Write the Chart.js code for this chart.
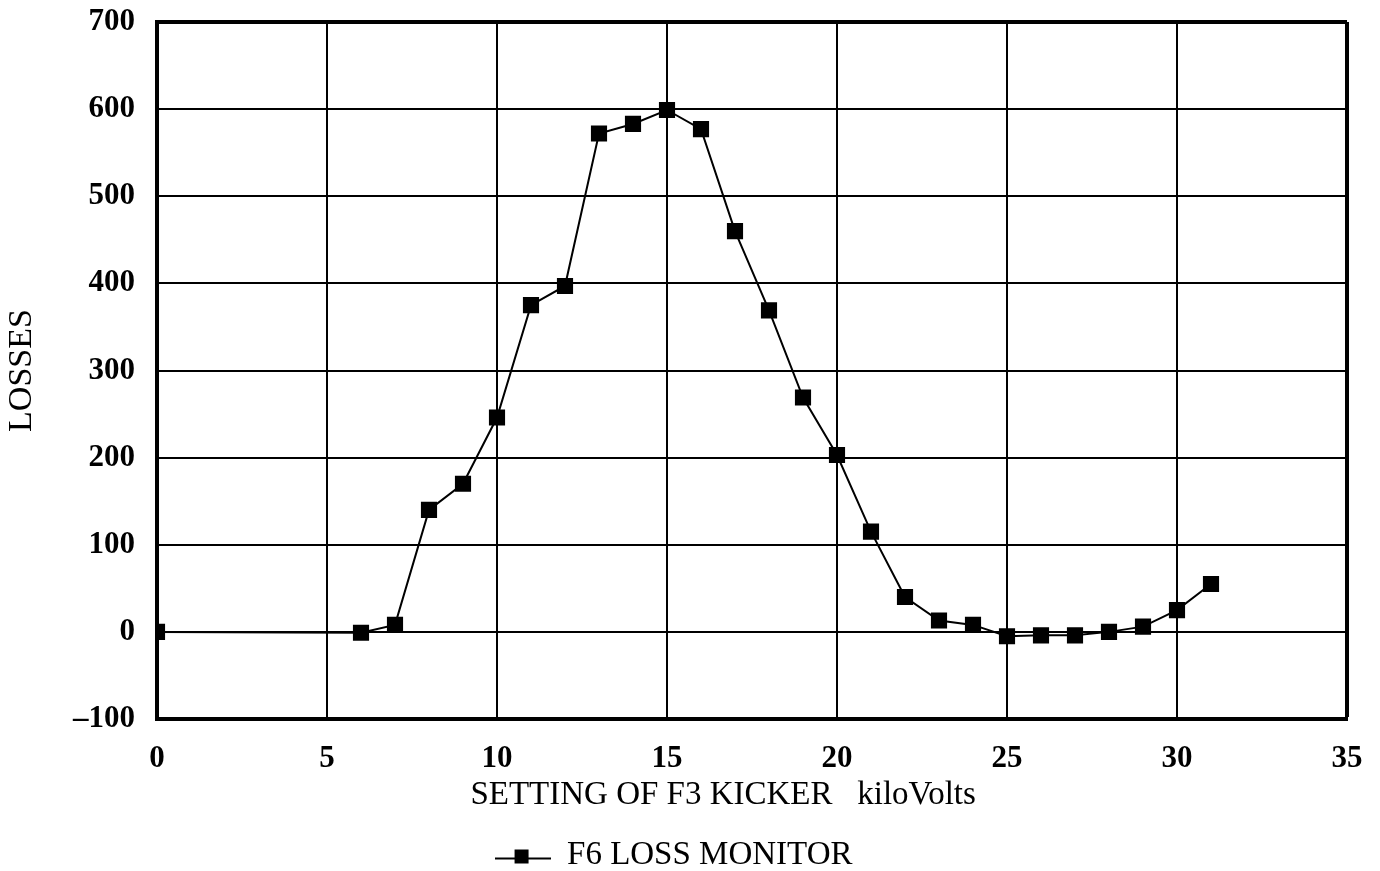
<!DOCTYPE html>
<html>
<head>
<meta charset="utf-8">
<script src="https://cdn.jsdelivr.net/npm/chart.js@4.4.0/dist/chart.umd.min.js"></script>
<style>
  html, body { margin: 0; padding: 0; background: #fff; }
  #wrap { width: 1380px; height: 871px; }
</style>
</head>
<body>
<div id="wrap"><canvas id="c" width="1380" height="871"></canvas></div>
<script>
// Kicker settings (kV) and the loss monitor readings at each setting
const kickerKV = [0, 6, 7, 8, 9, 10, 11, 12, 13, 14, 15, 16, 17, 18, 19, 20, 21, 22, 23, 24, 25, 26, 27, 28, 29, 30, 31];
const f6Losses = [0, -1, 8, 140, 170, 246, 375, 397, 572, 583, 599, 577, 460, 369, 269, 203, 115, 40, 13, 8, -5, -4, -4, 0, 6, 25, 55];
const seriesName = 'F6 LOSS MONITOR';
const xTitle = 'SETTING OF F3 KICKER   kiloVolts       ';
const yTitle = 'LOSSES';

// Legend symbol: short line with a filled square in the middle
function legendSymbol() {
  const cv = document.createElement('canvas');
  cv.width = 56; cv.height = 18;
  const g = cv.getContext('2d');
  g.strokeStyle = '#000'; g.lineWidth = 2;
  g.beginPath(); g.moveTo(0, 12); g.lineTo(56, 12); g.stroke();
  g.fillStyle = '#000';
  g.fillRect(20, 3, 14, 14);
  return cv;
}

const serif = "'Liberation Serif', 'Times New Roman', serif";

new Chart(document.getElementById('c'), {
  type: 'line',
  data: {
    datasets: [{
      label: seriesName,
      data: kickerKV.map((x, i) => ({ x: x, y: f6Losses[i] })),
      borderColor: '#000',
      backgroundColor: '#000',
      borderWidth: 2,
      pointStyle: 'rect',
      pointRadius: 10,
      pointHoverRadius: 10,
      tension: 0
    }]
  },
  options: {
    responsive: false,
    animation: false,
    layout: { padding: { top: 22, right: 33, left: 0, bottom: 0 } },
    plugins: {
      tooltip: { enabled: false },
      legend: {
        position: 'bottom',
        maxHeight: 40,
        labels: {
          usePointStyle: true,
          pointStyle: legendSymbol(),
          pointStyleWidth: 56,
          color: '#000',
          font: { family: serif, size: 33 },
          padding: 8
        }
      }
    },
    scales: {
      x: {
        type: 'linear',
        min: 0, max: 35,
        ticks: {
          stepSize: 5, color: '#000', padding: 21,
          font: { family: serif, size: 31, weight: 'bold' }
        },
        grid: {
          color: '#000',
          lineWidth: ctx => (ctx.tick && ctx.tick.value === 35) ? 4 : 2,
          drawTicks: false
        },
        border: { color: '#000', width: 4 },
        title: {
          display: true, text: xTitle, color: '#000',
          font: { family: serif, size: 33 },
          padding: { top: 0, bottom: 16 }
        },
        afterFit: s => { s.height = 112; s.paddingLeft = 0; s.paddingRight = 0; }
      },
      y: {
        min: -100, max: 700,
        ticks: {
          stepSize: 100, color: '#000', padding: 22,
          font: { family: serif, size: 31, weight: 'bold' },
          callback: v => v < 0 ? '\u2013' + Math.abs(v) : String(v)
        },
        grid: {
          color: '#000',
          lineWidth: ctx => (ctx.tick && ctx.tick.value === 700) ? 4 : 2,
          drawTicks: false
        },
        border: { color: '#000', width: 4 },
        title: {
          display: true, text: yTitle, color: '#000',
          font: { family: serif, size: 34 },
          padding: { top: 2, bottom: 0 }
        },
        afterFit: s => { s.width = 157; s.paddingTop = 0; s.paddingBottom = 0; }
      }
    }
  }
});
</script>
</body>
</html>
